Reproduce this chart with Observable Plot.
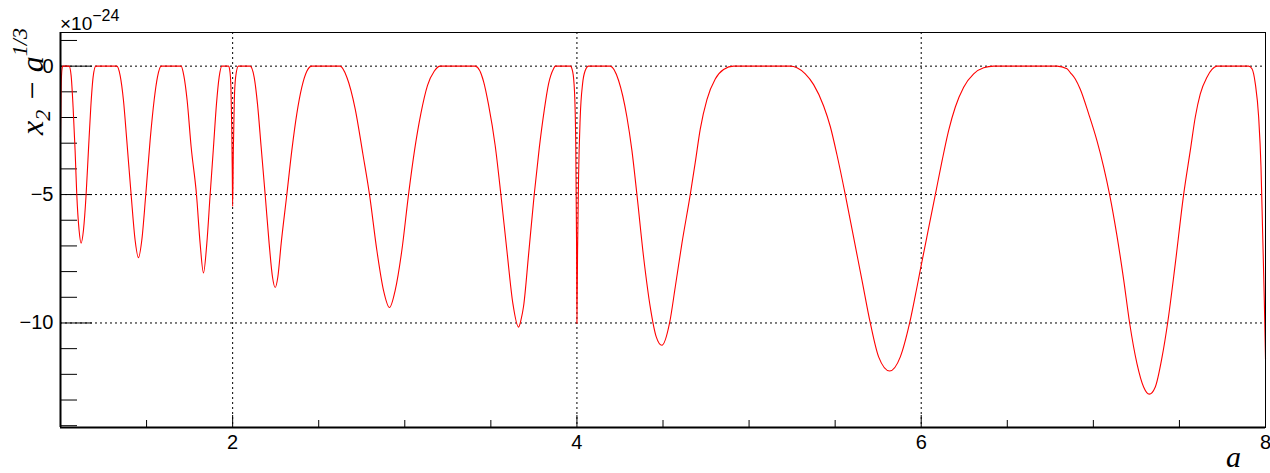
<!DOCTYPE html>
<html>
<head>
<meta charset="utf-8">
<script src="https://cdn.jsdelivr.net/npm/d3@7"></script>
<script src="https://cdn.jsdelivr.net/npm/@observablehq/plot@0.6"></script>
<style>
  html, body { margin: 0; padding: 0; background: #fff; }
</style>
</head>
<body>
<div id="chart"></div>
<script>
// a values (x axis)
const aVals = [
  1.000, 1.004, 1.008, 1.013, 1.050,
  1.0616, 1.0732, 1.0848, 1.0945, 1.108, 1.1197, 1.1333, 1.1488, 1.1623, 1.1759, 1.1894, 1.2049,
  1.327, 1.3463, 1.3657, 1.3851, 1.4102, 1.4335, 1.4528, 1.4722, 1.4954, 1.5206, 1.5439, 1.5632, 1.5845,
  1.7009, 1.7162, 1.7356, 1.759, 1.7899, 1.8112, 1.8305, 1.8499, 1.8693, 1.8887, 1.9061, 1.9216, 1.937,
  1.976, 1.983, 1.99, 1.995, 1.998, 2.0, 2.004, 2.0097, 2.0174, 2.033,
  2.1017, 2.1249, 2.1443, 2.1656, 2.1889, 2.2121, 2.2315, 2.247, 2.2625, 2.2818, 2.3148, 2.3438, 2.3729, 2.4019, 2.431, 2.46,
  2.6247, 2.6634, 2.7118, 2.7563, 2.7951, 2.8377, 2.8764, 2.9113, 2.9442, 2.983, 3.0217, 3.0566, 3.0934, 3.1321, 3.1709, 3.2057,
  3.4094, 3.4578, 3.4865, 3.5253, 3.5582, 3.593, 3.628, 3.6609, 3.676, 3.69, 3.719, 3.7519, 3.781, 3.81, 3.8352, 3.8642, 3.874,
  3.962, 3.975, 3.986, 3.993, 3.998, 4.0, 4.0037, 4.0095, 4.0192, 4.0328, 4.0482, 4.0676,
  4.1935, 4.242, 4.2903, 4.3194, 4.3485, 4.3872, 4.426, 4.4608, 4.4937, 4.5382, 4.5712, 4.6099, 4.6583, 4.6874, 4.7164, 4.7552, 4.8036, 4.852, 4.9101,
  5.2394, 5.2781, 5.3265, 5.375, 5.4331, 5.4718, 5.5105, 5.5589, 5.6074, 5.6558, 5.7042, 5.7526, 5.8166, 5.8786, 5.9328, 5.9755, 5.9987, 6.0432, 6.082, 6.1207, 6.1595, 6.1982, 6.2466, 6.3047, 6.3628, 6.4209,
  6.789, 6.847, 6.8659, 6.895, 6.924, 6.9724, 7.0208, 7.0596, 7.0945, 7.137, 7.1758, 7.2107, 7.2533, 7.292, 7.3249, 7.3598, 7.3985, 7.4315, 7.476, 7.5244, 7.5632, 7.5922, 7.6212, 7.66, 7.6891, 7.7181,
  7.9021, 7.9215, 7.9409, 7.9602, 7.9738, 7.9835, 7.9931, 8.0
];
// x2 - a^(1/3), in units of 1e-24
const dVals = [
  -2.76, -0.8, -0.15, 0, 0,
  -0.36, -1.6, -3.28, -5.0, -6.39, -6.89, -6.39, -5.0, -3.28, -1.6, -0.43, 0,
  0, -0.36, -1.33, -2.89, -5.0, -6.78, -7.46, -6.78, -5.0, -2.89, -1.33, -0.43, 0,
  0, -0.36, -1.33, -3.15, -5.0, -6.91, -8.05, -6.91, -5.0, -3.15, -1.47, -0.43, 0,
  0, -0.15, -0.8, -2.5, -4.2, -5.46, -3.28, -1.33, -0.43, 0,
  0, -0.43, -1.47, -3.15, -5.0, -6.91, -8.21, -8.62, -8.21, -6.91, -5.0, -3.28, -1.85, -0.82, -0.2, 0,
  0, -0.43, -1.66, -3.41, -5.0, -7.17, -8.73, -9.40, -8.73, -7.17, -5.0, -3.28, -1.85, -0.75, -0.2, 0,
  0, -0.6, -1.5, -3.1, -5.0, -7.17, -9.25, -10.16, -9.85, -9.35, -7.35, -5.0, -3.2, -1.72, -0.69, -0.1, 0,
  0, -0.2, -1.0, -3.0, -7.0, -10.02, -7.17, -4.32, -1.98, -0.69, -0.17, 0,
  0, -0.56, -1.98, -3.28, -5.0, -7.43, -9.38, -10.54, -10.87, -10.0, -8.6, -6.9, -5.0, -3.75, -2.45, -1.3, -0.5, -0.13, 0,
  0, -0.06, -0.30, -0.72, -1.55, -2.35, -3.45, -5.0, -6.67, -8.33, -10.0, -11.32, -11.87, -11.32, -10.0, -8.6, -7.8, -6.3, -5.0, -3.7, -2.5, -1.59, -0.82, -0.30, -0.06, 0,
  0, -0.1, -0.25, -0.5, -0.9, -1.85, -2.9, -3.92, -5.0, -6.6, -8.3, -10.0, -11.58, -12.49, -12.77, -12.49, -11.35, -10.0, -7.69, -5.0, -3.28, -1.98, -1.08, -0.43, -0.13, 0,
  0, -0.10, -0.69, -1.98, -3.93, -6.52, -9.12, -11.4
];

const xDomain = [1, 8];
const yDomain = [-14.07, 1.31];
const xLabelTicks = [2, 4, 6, 8];
const xGridTicks = [2, 4, 6];
const xMinorTicks = [1.5, 2.5, 3, 3.5, 4.5, 5, 5.5, 6.5, 7, 7.5];
const yLabelTicks = [0, -5, -10];
const yMinorTicks = [1, -1, -2, -3, -4, -6, -7, -8, -9, -11, -12, -13, -14];

const data = aVals.map((a, i) => ({a, d: dVals[i]}));

const W = 1270, H = 473;
const mL = 60, mR = 5, mT = 32, mB = 46;
const frameW = W - mL - mR, frameH = H - mT - mB;
const minus = v => (v < 0 ? "\u2212" + Math.abs(v) : String(v));
const sans = "'Liberation Sans', Arial, Helvetica, sans-serif";
const serif = "'Liberation Serif', 'Times New Roman', serif";

const chart = Plot.plot({
  width: W, height: H,
  marginLeft: mL, marginRight: mR, marginTop: mT, marginBottom: mB,
  x: {domain: xDomain, label: null, axis: null},
  y: {domain: yDomain, label: null, axis: null},
  style: {fontFamily: sans, fontSize: "20px", color: "black", background: "white"},
  marks: [
    Plot.ruleX(xGridTicks, {x: d => d, stroke: "black", strokeWidth: 1, strokeDasharray: "2,3"}),
    Plot.ruleY(yLabelTicks, {y: d => d, stroke: "black", strokeWidth: 1, strokeDasharray: "2,3"}),
    Plot.tickX(xLabelTicks, {x: d => d, stroke: "black", insetTop: frameH - 12}),
    Plot.tickX(xMinorTicks, {x: d => d, stroke: "black", insetTop: frameH - 7}),
    Plot.tickY(yLabelTicks, {y: d => d, stroke: "black", insetRight: frameW - 32}),
    Plot.tickY(yMinorTicks, {y: d => d, stroke: "black", insetRight: frameW - 17}),
    Plot.line(data, {x: "a", y: "d", stroke: "#ff0000", strokeWidth: 1.1, curve: "monotone-x"}),
    Plot.frame({stroke: "black", strokeWidth: 1}),
    Plot.ruleY([yDomain[0]], {y: d => d, stroke: "black", strokeWidth: 2}),
    Plot.ruleX([xDomain[0]], {x: d => d, stroke: "black", strokeWidth: 2}),
    Plot.text(xLabelTicks, {x: d => d, frameAnchor: "bottom", lineAnchor: "top", dy: 7, text: d => String(d), fontSize: 20, fontFamily: sans, fill: "black"}),
    Plot.text(yLabelTicks, {y: d => d, frameAnchor: "left", textAnchor: "end", dx: -7, text: minus, fontSize: 20, fontFamily: sans, fill: "black"})
  ]
});

const svg = d3.select(chart);
// exponent label
const ex = svg.append("text")
  .attr("x", 60).attr("y", 30)
  .attr("text-anchor", "start")
  .attr("font-family", sans)
  .attr("font-size", 19).attr("fill", "black");
ex.append("tspan").text("\u00d710");
ex.append("tspan").attr("dy", -9).attr("font-size", 16).text("\u221224");

// y axis title
const yt = svg.append("text")
  .attr("transform", "translate(43,28) rotate(-90)")
  .attr("text-anchor", "end")
  .attr("font-family", serif)
  .attr("font-style", "italic")
  .attr("font-size", 32).attr("fill", "black");
yt.append("tspan").text("x");
yt.append("tspan").attr("dy", 7).attr("font-size", 22).text("2");
yt.append("tspan").attr("dy", -7).text(" \u2212 a");
yt.append("tspan").attr("dy", -16).attr("font-size", 22).text("1/3");

// x axis title
svg.append("text")
  .attr("x", 1241).attr("y", 467)
  .attr("text-anchor", "end")
  .attr("font-family", serif)
  .attr("font-style", "italic")
  .attr("font-size", 30).attr("fill", "black")
  .text("a");

document.getElementById("chart").appendChild(chart);
</script>
</body>
</html>
